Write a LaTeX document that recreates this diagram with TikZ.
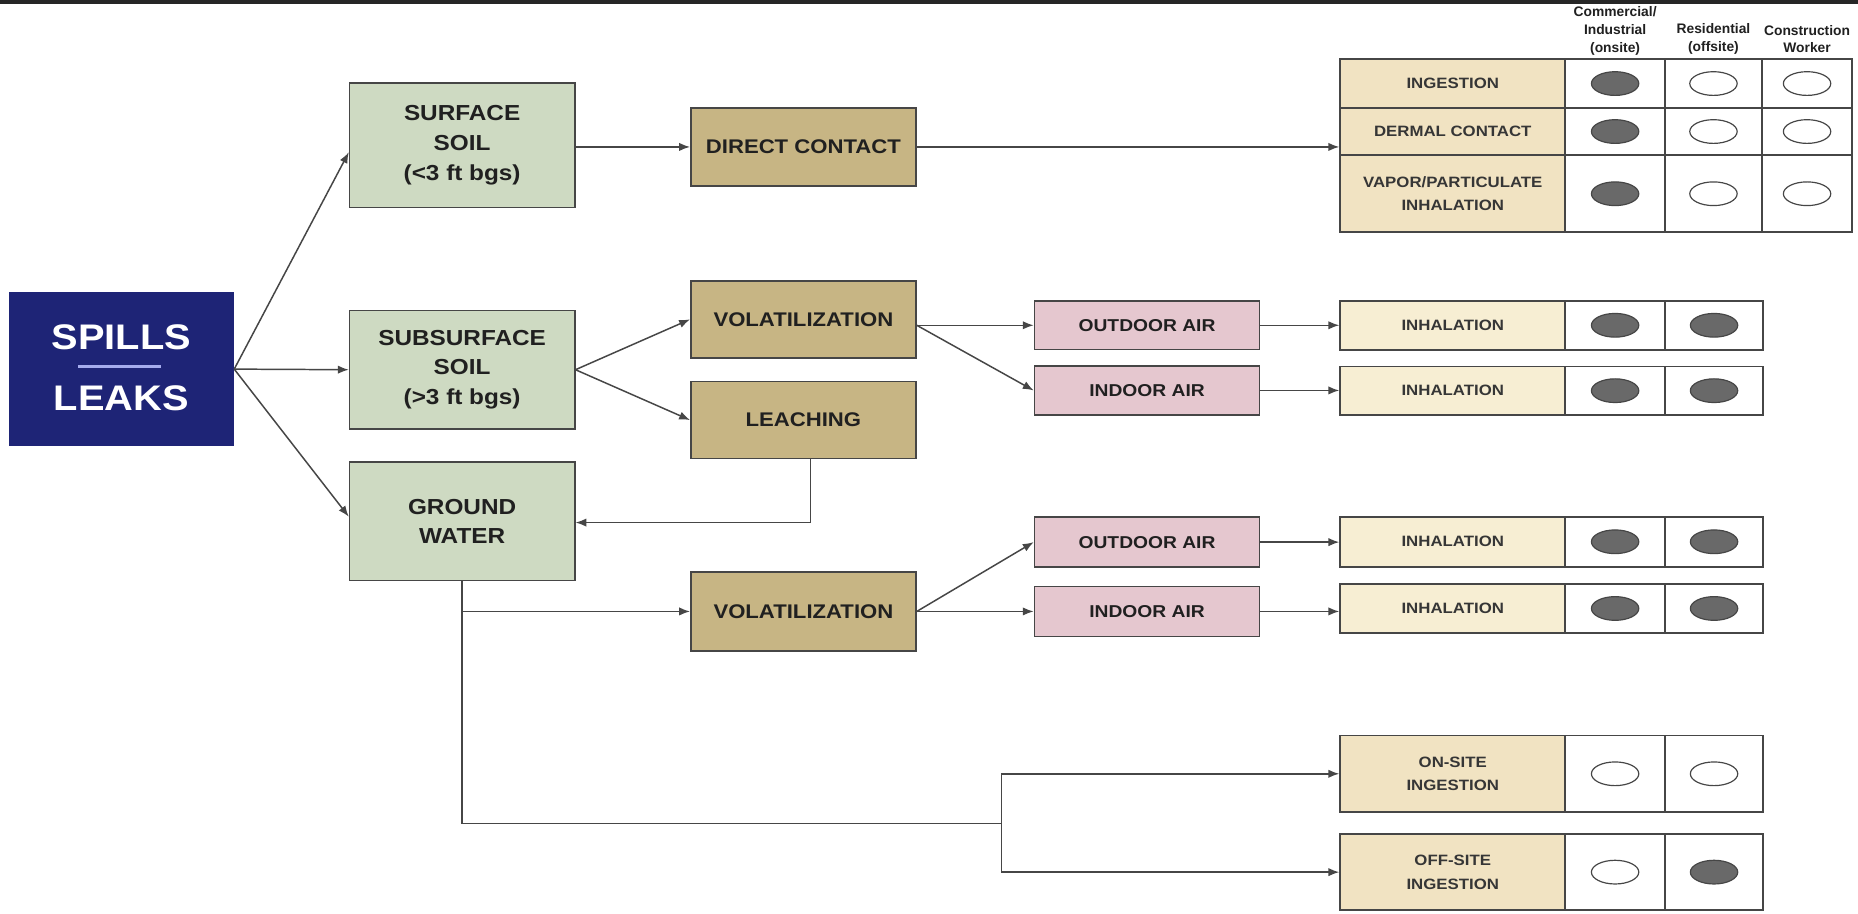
\documentclass[tikz,border=0pt]{standalone}
\usepackage{fontspec}
\setmainfont{Liberation Sans}
\newfontfamily\wfont[FakeStretch=1.12]{Liberation Sans}
\usetikzlibrary{arrows.meta,shapes.geometric,calc}
\definecolor{navy}{RGB}{30,36,118}
\definecolor{soil}{RGB}{206,218,194}
\definecolor{tanbox}{RGB}{199,181,132}
\definecolor{pinkbox}{RGB}{229,199,207}
\definecolor{creamA}{RGB}{241,227,194}
\definecolor{creamB}{RGB}{247,238,211}
\definecolor{edge}{RGB}{70,70,70}
\definecolor{dotc}{RGB}{105,105,105}
\definecolor{ink}{RGB}{32,32,32}
\definecolor{sepline}{RGB}{165,172,238}
\tikzset{
  sz/.style 2 args={minimum width={#1*0.6pt}, minimum height={#2*0.6pt}},
  nbox/.style={draw=edge, line width=0.8pt, inner sep=0pt, align=center, text=ink},
  ngreen/.style={nbox, fill=soil, font=\wfont\bfseries\fontsize{11}{15}\selectfont},
  ntan/.style={nbox, fill=tanbox, font=\wfont\bfseries\fontsize{10}{13}\selectfont},
  npink/.style={nbox, fill=pinkbox, font=\wfont\bfseries\fontsize{8.7}{11}\selectfont},
  nlab/.style={nbox, line width=0.9pt, text=ink!90, font=\wfont\bfseries\fontsize{7.6}{12}\selectfont},
  ncell/.style={draw=edge, line width=0.9pt, fill=white, inner sep=0pt},
  dotfull/.style={ellipse, draw=edge, fill=dotc, line width=0.6pt, inner sep=0pt, minimum width=24pt, minimum height=12pt},
  dotopen/.style={ellipse, draw=edge, fill=white, line width=0.6pt, inner sep=0pt, minimum width=24pt, minimum height=12pt},
  hdr/.style={align=center, text=ink, inner sep=0pt, font=\bfseries\fontsize{7}{9}\selectfont},
  arrw/.style={draw=edge, line width=0.75pt, -{Latex[length=5.5pt,width=4.2pt]}},
  lnw/.style={draw=edge, line width=0.75pt},
}
% three-column row: name, y, h, fill, text, dot1, dot2, dot3
\newcommand\rowthree[8]{%
  \node[nlab, fill=#4, sz={190}{#3}] (#1) at (1226,#2) {#5};
  \node[ncell, sz={84}{#3}] (#1a) at (1363,#2) {};
  \node[#6] (#1ad) at (#1a) {};
  \node[ncell, sz={82}{#3}] (#1b) at (1446,#2) {};
  \node[#7] (#1bd) at (#1b) {};
  \node[ncell, sz={76}{#3}] (#1c) at (1525,#2) {};
  \node[#8] (#1cd) at (#1c) {};
}
\newcommand\rowtwo[7]{%
  \node[nlab, fill=#4, sz={190}{#3}] (#1) at (1226,#2) {#5};
  \node[ncell, sz={84}{#3}] (#1a) at (1363,#2) {};
  \node[#6] (#1ad) at (#1a) {};
  \node[ncell, sz={83}{#3}] (#1b) at (1446.5,#2) {};
  \node[#7] (#1bd) at (#1b) {};
}
\begin{document}
\begin{tikzpicture}[x=0.6pt,y=-0.6pt]
\useasboundingbox (0,0) rectangle (1568,770.5);
\fill[white] (0,0) rectangle (1568,770.5);
\fill[black!85] (0,0) rectangle (1568,3.4);

% source
\node[nbox, fill=navy, draw=navy, sz={189}{129}] (sp) at (102.5,311.5) {};
\node[text=white, inner sep=0pt, font=\wfont\bfseries\fontsize{18}{18}\selectfont] (spa) at (102.5,285) {SPILLS};
\node[text=white, inner sep=0pt, font=\wfont\bfseries\fontsize{18}{18}\selectfont] (spb) at (102.5,336) {LEAKS};
\draw[sepline, line width=1.5pt] (66,309) -- (136,309);

% media
\node[ngreen, sz={190}{105}] (ss) at (390,122.5) {SURFACE\\SOIL\\(<3 ft bgs)};
\node[ngreen, sz={190}{100}] (sub) at (390,312) {SUBSURFACE\\SOIL\\(>3 ft bgs)};
\node[ngreen, sz={190}{100}] (gw) at (390,440) {GROUND\\WATER};

% mechanisms
\node[ntan, sz={190}{66}] (dc) at (678,124) {DIRECT CONTACT};
\node[ntan, sz={190}{65}] (vol1) at (678,269.5) {VOLATILIZATION};
\node[ntan, sz={190}{65}] (leach) at (678,354.5) {LEACHING};
\node[ntan, sz={190}{67}] (vol2) at (678,516) {VOLATILIZATION};

% air
\node[npink, sz={190}{41}] (oa1) at (968,274.5) {OUTDOOR AIR};
\node[npink, sz={190}{41}] (ia1) at (968,329.5) {INDOOR AIR};
\node[npink, sz={190}{42}] (oa2) at (968,457.5) {OUTDOOR AIR};
\node[npink, sz={190}{42}] (ia2) at (968,516) {INDOOR AIR};

% headers
\node[hdr] (h1) at (1363,26) {Commercial/\\Industrial\\(onsite)};
\node[hdr] (h2) at (1446,33) {Residential\\(offsite)};
\node[hdr] (h3) at (1525,33) {Construction\\Worker};

% top table
\rowthree{ing}{70.5}{41}{creamA}{INGESTION}{dotfull}{dotopen}{dotopen}
\rowthree{derm}{111}{40}{creamA}{DERMAL CONTACT}{dotfull}{dotopen}{dotopen}
\rowthree{vap}{163.5}{65}{creamA}{VAPOR/PARTICULATE\\INHALATION}{dotfull}{dotopen}{dotopen}

% other rows
\rowtwo{ra}{274.5}{41.5}{creamB}{INHALATION}{dotfull}{dotfull}
\rowtwo{rb}{329.7}{41}{creamB}{INHALATION}{dotfull}{dotfull}
\rowtwo{rc}{457.2}{42}{creamB}{INHALATION}{dotfull}{dotfull}
\rowtwo{rd}{513.5}{41}{creamB}{INHALATION}{dotfull}{dotfull}
\rowtwo{on}{653}{64.5}{creamA}{ON-SITE\\INGESTION}{dotopen}{dotopen}
\rowtwo{off}{736}{64}{creamA}{OFF-SITE\\INGESTION}{dotopen}{dotfull}

% connectors
\draw[arrw] (sp.east) -- ($(ss.west)+(0,6)$);
\draw[arrw] (sp.east) -- (sub.west);
\draw[arrw] (sp.east) -- ($(gw.west)+(0,-4)$);
\draw[arrw] (ss.east |- dc.west) -- (dc.west);
\draw[arrw] (dc.east) -- (dc.east -| derm.west);
\draw[arrw] (sub.east) -- (vol1.west);
\draw[arrw] (sub.east) -- (leach.west);
\draw[arrw] (vol1.east |- oa1.west) -- (oa1.west);
\draw[arrw] (vol1.east |- oa1.west) -- (ia1.west);
\draw[arrw] (oa1.east) -- (oa1.east -| ra.west);
\draw[arrw] (ia1.east) -- (ia1.east -| rb.west);
\coordinate (lk) at (684,441);
\draw[arrw] (leach.south -| lk) -- (lk) -- (lk -| gw.east);
\coordinate (fork) at (845,695);
\draw[lnw] (gw.south) -- (gw.south |- fork) -- (fork);
\draw[arrw] (gw.south |- vol2.west) -- (vol2.west);
\draw[arrw] (vol2.east) -- (oa2.west);
\draw[arrw] (vol2.east) -- (ia2.west);
\draw[arrw] (oa2.east) -- (oa2.east -| rc.west);
\draw[arrw] (ia2.east) -- (ia2.east -| rd.west);
\draw[lnw] (fork |- on.west) -- (fork |- off.west);
\draw[arrw] (fork |- on.west) -- (on.west);
\draw[arrw] (fork |- off.west) -- (off.west);
\end{tikzpicture}
\end{document}
